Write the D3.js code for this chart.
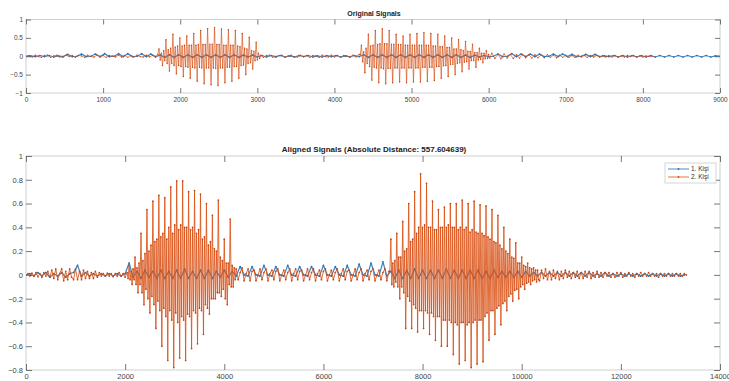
<!DOCTYPE html>
<html>
<head>
<meta charset="utf-8">
<script src="https://cdn.jsdelivr.net/npm/d3@7"></script>
<style>
  body { margin: 0; background: #fff; }
  svg { display: block; font-family: "Liberation Sans", Arial, sans-serif; }
</style>
</head>
<body>
<div id="chart"></div>
<script>
// ---- data (sample values) ----
const topTitle = "Original Signals";
const bottomTitle = "Aligned Signals (Absolute Distance: 557.604639)";
const seriesNames = ["1. Kişi", "2. Kişi"];

const topXTicks = [0, 1000, 2000, 3000, 4000, 5000, 6000, 7000, 8000, 9000];
const topYTicks = [-1, -0.5, 0, 0.5, 1];
const bottomXTicks = [0, 2000, 4000, 6000, 8000, 10000, 12000, 14000];
const bottomYTicks = [-0.8, -0.6, -0.4, -0.2, 0, 0.2, 0.4, 0.6, 0.8, 1];

// original signals
const topBlue = [
  0, 0.01, -0.01, 0.02, -0.01, 0.02, -0.02, 0.01, -0.01,
  0.05, -0.01, 0.0, 0.06, -0.01, 0.0, 0.06, -0.01, 0.07, -0.01, 0.0, 0.07, -0.01, 0.07, -0.01, 0.0, 0.07, -0.01, 0.06, -0.01,
  0.03, -0.03, 0.04, -0.03, 0.04, -0.03, 0.04, -0.03, 0.04, -0.03, 0.04, -0.03, 0.04, -0.03, 0.04, -0.03, 0.04, -0.03, 0.03, -0.02, 0.03, -0.02, 0.02,
  -0.02, 0.02, -0.01, 0.02, -0.02, 0.01, -0.02, 0.02, -0.01, 0.02, -0.02, 0.01, -0.02, 0.02, -0.01, 0.02, -0.02, 0.01, -0.02, 0.02, -0.01,
  0.04, -0.03, 0.04, -0.03, 0.04, -0.03, 0.04, -0.03, 0.04, -0.03, 0.04, -0.03, 0.04, -0.03, 0.04, -0.03, 0.04, -0.03, 0.04, -0.03, 0.04, -0.03, 0.03, -0.03, 0.03, -0.02, 0.02,
  -0.01, 0.0, 0.06, -0.01, 0.0, 0.07, -0.01, 0.06, -0.01, 0.06, -0.01, 0.06, -0.01, 0.0, 0.06, -0.01, 0.06, -0.01, 0.05, -0.01, 0.0, 0.05, -0.01, 0.05, -0.01,
  0.01, -0.01, 0.02, -0.02, 0.02, -0.02, 0.02, -0.02, 0.02, -0.02, 0.02, -0.02, 0.02, -0.02, 0.02, -0.02, 0.02, -0.02, 0.02, -0.02, 0.02, -0.02, 0.02, -0.02, 0.01, 0.0
];

const topOrangeLead = [
  0, 0.02, -0.02, 0.03, -0.01, -0.03, 0.02, 0.03, -0.03, 0.01,
  0.03, -0.02, -0.02, 0.03, -0.01, 0.02, -0.03, 0.02, 0.01, -0.03,
  0.03, -0.01, -0.02, 0.03, -0.02, 0.02, -0.03, 0.02, 0.01, -0.02,
  0.03, -0.02, 0.02, -0.03, 0.02, -0.02, 0.03, -0.01, -0.02, 0.03,
  -0.02, 0.02, -0.03
];

const topOrangeBurst1 = [
  0.05,
  0.2, -0.1, 0.08, -0.25, 0.15, -0.12, 0.45, -0.2, 0.18, -0.4, 0.22, -0.2,
  0.6, -0.25, 0.25, -0.48, 0.28, -0.25, 0.5, -0.28, 0.28, -0.55, 0.3, -0.28,
  0.55, -0.3, 0.3, -0.6, 0.3, -0.3, 0.62, -0.32, 0.3, -0.68, 0.32, -0.3,
  0.7, -0.32, 0.32, -0.75, 0.32, -0.32, 0.75, -0.32, 0.33, -0.78, 0.33, -0.32,
  0.78, -0.33, 0.32, -0.8, 0.32, -0.32, 0.74, -0.32, 0.3, -0.72, 0.3, -0.3,
  0.72, -0.3, 0.3, -0.68, 0.3, -0.28, 0.7, -0.28, 0.28, -0.6, 0.26, -0.25,
  0.62, -0.24, 0.22, -0.5, 0.2, -0.2, 0.52, -0.18, 0.16, -0.35, 0.14, -0.12,
  0.38, -0.1, 0.08,
  -0.06, 0.03
];

const topOrangeMid = [
  -0.03, 0.02, 0.03, -0.02, -0.03, 0.02, 0.03, -0.03, 0.01, 0.03,
  -0.02, -0.02, 0.03, -0.01, 0.02, -0.03, 0.02, 0.01, -0.03, 0.03,
  -0.01, -0.02, 0.03, -0.02, 0.02, -0.03, 0.02, 0.01, -0.02, 0.03,
  -0.02, 0.05
];

const topOrangeBurst2 = [
  0.04,
  0.3, -0.15, 0.12, -0.45, 0.22, -0.2, 0.6, -0.28, 0.28, -0.65, 0.3, -0.3,
  0.7, -0.32, 0.32, -0.72, 0.34, -0.32, 0.75, -0.34, 0.34, -0.75, 0.34, -0.33,
  0.7, -0.33, 0.33, -0.72, 0.33, -0.32, 0.6, -0.32, 0.32, -0.7, 0.32, -0.32,
  0.55, -0.32, 0.3, -0.72, 0.3, -0.32, 0.6, -0.32, 0.3, -0.7, 0.3, -0.32,
  0.62, -0.32, 0.3, -0.7, 0.3, -0.3, 0.65, -0.3, 0.3, -0.68, 0.3, -0.3,
  0.62, -0.3, 0.28, -0.66, 0.28, -0.28, 0.6, -0.28, 0.26, -0.6, 0.26, -0.26,
  0.55, -0.25, 0.24, -0.55, 0.24, -0.22, 0.5, -0.22, 0.2, -0.5, 0.2, -0.2,
  0.45, -0.18, 0.18, -0.42, 0.16, -0.16, 0.4, -0.15, 0.14, -0.35, 0.13, -0.12,
  0.33, -0.12, 0.1, -0.3, 0.1, -0.1, 0.22, -0.09, 0.08, -0.18, 0.08, -0.07,
  0.15, -0.06, 0.05,
  -0.05
];

const topOrangeTail = [
  0.08, -0.06, 0.05, -0.07, 0.06, -0.05, 0.05, -0.06, 0.04, -0.05,
  0.05, -0.04, 0.04, -0.05, 0.04, -0.04, 0.03, -0.04, 0.04, -0.03,
  0.03, -0.04, 0.03, -0.03, 0.03, -0.03, 0.02, -0.03, 0.03, -0.02,
  0.02, -0.03, 0.02, -0.02, 0.02, -0.02, 0.02, -0.02, 0.02, -0.02,
  0.02, -0.02, 0.01, -0.02, 0.02, -0.01, 0.02, -0.02, 0.01, -0.02,
  0.01, -0.01, 0.0
];

// aligned signals
const bottomBlue = [
  0, 0.01, -0.01, 0.02, -0.01, 0.02, -0.02, 0.01, -0.01, 0.02, -0.02, 0.01,
  0.02, 0.08, -0.01, 0.02, -0.01, 0.01, -0.01, 0.01, -0.01, 0.01, -0.01, 0.01, -0.01, 0.01, 0.1, -0.02,
  0.03, -0.03, 0.04, -0.02, 0.03, -0.03, 0.04, -0.03, 0.03, -0.03, 0.04, -0.03, 0.05, -0.03, 0.03, -0.03, 0.04, -0.03, 0.04, -0.03, 0.03, -0.02, 0.04, -0.02, 0.03,
  -0.01, 0.07, 0.0, -0.01, 0.07, 0.0, -0.01, 0.08, 0.0, -0.01, 0.07, 0.0, -0.01, 0.08, 0.0, -0.01, 0.07, 0.0, -0.01, 0.07,
  0.0, -0.01, 0.08, 0.0, -0.01, 0.07, 0.0, -0.01, 0.08, 0.0, -0.01, 0.09, 0.0, -0.01, 0.1, 0.0, -0.01, 0.11, -0.01,
  0.03, -0.03, 0.04, -0.03, 0.04, -0.03, 0.05, -0.03, 0.04, -0.03, 0.04, -0.03, 0.04, -0.03, 0.05, -0.03, 0.04, -0.03, 0.04,
  -0.03, 0.04, -0.03, 0.04, -0.03, 0.03, -0.03, 0.04, -0.02, 0.03, -0.02, 0.03, -0.02, 0.03, -0.02, 0.03, -0.01, 0.02,
  -0.01, 0.02, -0.01, 0.02, -0.01, 0.02, -0.01, 0.02, -0.01, 0.02, -0.01, 0.02, -0.01, 0.02, -0.01, 0.01, -0.01, 0.02, -0.01,
  0.01, -0.01, 0.01, -0.01, 0.01, -0.01, 0.01, -0.01, 0.01, -0.01, 0.01, -0.01, 0.01, -0.01, 0.01, -0.01, 0.01, -0.01, 0.0
];

const bottomOrangeLead = [
  0, 0.01, -0.01, 0.015, -0.01, 0.02, -0.015, 0.01, -0.02, 0.02, -0.01, 0.03, -0.02,
  0.04, -0.03, 0.05, -0.04, 0.01, 0.05, -0.05, 0.03, -0.04, 0.05, -0.02, -0.04, 0.05,
  -0.04, 0.03, -0.04, 0.04, -0.03, 0.03, -0.03, 0.02, -0.03, 0.03, -0.02, 0.02,
  -0.01, 0.01, -0.01, 0.015, -0.01, 0.01, -0.015, 0.01, -0.01, 0.02, -0.01, 0.01, -0.02, 0.02
];

const bottomOrangeBurst1 = [
  -0.03,
  0.08, -0.04, 0.03, -0.08, 0.05, -0.04, 0.15, -0.08, 0.06, -0.15, 0.1, -0.08,
  0.35, -0.15, 0.12, -0.25, 0.18, -0.12, 0.55, -0.2, 0.2, -0.32, 0.25, -0.18,
  0.62, -0.25, 0.28, -0.45, 0.3, -0.22, 0.67, -0.3, 0.32, -0.6, 0.35, -0.28,
  0.65, -0.35, 0.3, -0.72, 0.4, -0.3, 0.74, -0.38, 0.35, -0.78, 0.42, -0.32,
  0.79, -0.4, 0.38, -0.7, 0.42, -0.35, 0.79, -0.38, 0.4, -0.72, 0.4, -0.33,
  0.7, -0.35, 0.38, -0.62, 0.4, -0.3, 0.71, -0.32, 0.35, -0.58, 0.38, -0.28,
  0.68, -0.3, 0.3, -0.5, 0.32, -0.25, 0.6, -0.28, 0.25, -0.33, 0.28, -0.2,
  0.5, -0.2, 0.22, -0.2, 0.2, -0.15, 0.63, -0.15, 0.15, -0.18, 0.12, -0.12,
  0.3, -0.2, 0.1, -0.25, 0.1, -0.08, 0.47, -0.1, 0.08, -0.1, 0.06, -0.04
];

const bottomOrangeMid = [
  0.05, -0.04, 0.02, 0.06, -0.05, 0.01, 0.05, -0.05, 0.03, 0.04,
  -0.05, 0.0, 0.05, -0.04, 0.02, 0.05, -0.05, 0.01, 0.04, -0.04,
  0.03, 0.05, -0.05, 0.0, 0.04, -0.04, 0.02, 0.05, -0.05, 0.01,
  0.05, -0.04, 0.03, 0.04, -0.05, 0.0, 0.05, -0.04, 0.02, 0.05,
  -0.05, 0.01, 0.04, -0.04, 0.03, 0.05, -0.05, 0.0, 0.04, -0.04,
  0.02, 0.05, -0.05, 0.01, 0.05, -0.04, 0.03, 0.04, -0.05, 0.0,
  0.05, -0.04, 0.02, 0.05, -0.05, 0.01, 0.04, -0.04, 0.03, 0.05,
  -0.05, 0.0, 0.04, -0.04, 0.02, 0.05, -0.05, 0.03
];

const bottomOrangeBurst2 = [
  0.03,
  0.3, -0.08, 0.1, -0.1, 0.12, -0.06, 0.35, -0.1, 0.15, -0.2, 0.15, -0.1,
  0.45, -0.15, 0.2, -0.45, 0.22, -0.18, 0.6, -0.22, 0.28, -0.45, 0.3, -0.25,
  0.7, -0.28, 0.35, -0.48, 0.4, -0.3, 0.85, -0.3, 0.4, -0.45, 0.42, -0.3,
  0.77, -0.32, 0.4, -0.5, 0.4, -0.32, 0.62, -0.35, 0.38, -0.55, 0.38, -0.35,
  0.55, -0.35, 0.4, -0.6, 0.4, -0.38, 0.57, -0.38, 0.4, -0.6, 0.42, -0.38,
  0.6, -0.4, 0.4, -0.67, 0.4, -0.4, 0.6, -0.42, 0.38, -0.75, 0.4, -0.4,
  0.63, -0.4, 0.38, -0.72, 0.4, -0.42, 0.6, -0.4, 0.36, -0.78, 0.38, -0.4,
  0.62, -0.38, 0.36, -0.75, 0.35, -0.38, 0.59, -0.38, 0.35, -0.73, 0.33, -0.35,
  0.58, -0.32, 0.32, -0.55, 0.3, -0.3, 0.55, -0.3, 0.28, -0.5, 0.27, -0.28,
  0.5, -0.26, 0.25, -0.42, 0.22, -0.24, 0.4, -0.22, 0.2, -0.3, 0.18, -0.18,
  0.3, -0.16, 0.15, -0.22, 0.14, -0.13, 0.27, -0.12, 0.1, -0.2, 0.1, -0.1,
  0.15, -0.08, 0.08, -0.12, 0.07, -0.07, 0.1, -0.06, 0.06, -0.08, 0.05, -0.05,
  0.06, -0.04, 0.04, -0.06, 0.04, -0.04
];

const bottomOrangeTail = [
  -0.05, 0.04, -0.03, 0.05, -0.04, 0.03, -0.04, 0.04, -0.03, 0.03, -0.04, 0.03, -0.03, 0.04, -0.02, 0.03, -0.03,
  0.02, -0.02, 0.03, -0.03, 0.02, -0.03, 0.03, -0.02, 0.03, -0.03,
  0.02, -0.02, 0.03, -0.02, 0.02, -0.02, 0.02, -0.01, 0.02, -0.02,
  0.01, -0.02, 0.02, -0.01, 0.02, -0.02, 0.01, -0.01, 0.02, -0.01,
  0.01, -0.02, 0.01, -0.01, 0.02, -0.01, 0.01, -0.01, 0.02, -0.01,
  0.01, -0.01, 0.01, -0.02, 0.01, -0.01, 0.01, -0.01, 0.01, -0.01,
  0.01, -0.01, 0.01, -0.01, 0.01, -0.01, 0.01, 0.0
];

// segments: [first sample x, sample spacing, values]
const topBlueSegments = [[0, 60, topBlue]];
const topOrangeSegments = [
  [0, 40, topOrangeLead],
  [1710, 15, topOrangeBurst1],
  [3080, 40, topOrangeMid],
  [4335, 15, topOrangeBurst2],
  [6040, 40, topOrangeTail]
];
const bottomBlueSegments = [[0, 80, bottomBlue]];
const bottomOrangeSegments = [
  [0, 40, bottomOrangeLead],
  [2060, 20, bottomOrangeBurst1],
  [4240, 40, bottomOrangeMid],
  [7340, 20, bottomOrangeBurst2],
  [10360, 40, bottomOrangeTail]
];

const blue = "#1f6fb4";
const orange = "#D95319";
const orangeDot = "#c0461a";

// ---- drawing ----
const width = 729, height = 381;
const svg = d3.select("#chart").append("svg")
  .attr("width", width)
  .attr("height", height);

function toPoints(segments) {
  const pts = [];
  segments.forEach(([start, step, values]) => {
    values.forEach((v, i) => pts.push({ x: start + i * step, y: v }));
  });
  return pts;
}

function drawPanel(opts) {
  const { id, box, xDomain, yDomain, xTicks, yTicks, title, series, fontSize, tickLen } = opts;
  const x = d3.scaleLinear().domain(xDomain).range([box.left, box.right]);
  const y = d3.scaleLinear().domain(yDomain).range([box.bottom, box.top]);

  const g = svg.append("g");

  g.append("clipPath").attr("id", id)
    .append("rect")
    .attr("x", box.left).attr("y", box.top)
    .attr("width", box.right - box.left).attr("height", box.bottom - box.top);

  const line = d3.line().x(d => x(d.x)).y(d => y(d.y));
  const plot = g.append("g").attr("clip-path", `url(#${id})`);

  series.forEach(s => {
    const pts = toPoints(s.segments);
    plot.append("path")
      .datum(pts)
      .attr("fill", "none")
      .attr("stroke", s.color)
      .attr("stroke-width", s.width)
      .attr("stroke-opacity", 0.85)
      .attr("stroke-linejoin", "round")
      .attr("d", line);
    plot.append("g")
      .selectAll("circle")
      .data(pts)
      .join("circle")
      .attr("cx", d => x(d.x))
      .attr("cy", d => y(d.y))
      .attr("r", s.r)
      .attr("fill", s.dot);
  });

  // box
  g.append("rect")
    .attr("x", box.left).attr("y", box.top)
    .attr("width", box.right - box.left).attr("height", box.bottom - box.top)
    .attr("fill", "none")
    .attr("stroke", "#c4c4c4")
    .attr("stroke-width", 0.8);

  // axes with inward ticks, mirrored on top/right like matlab
  const axBottom = d3.axisBottom(x).tickValues(xTicks).tickSize(-tickLen).tickFormat(d3.format("d"));
  const axTop = d3.axisTop(x).tickValues(xTicks).tickSize(-tickLen).tickFormat("");
  const axLeft = d3.axisLeft(y).tickValues(yTicks).tickSize(-tickLen).tickFormat(d => d3.format("")(+d.toFixed(1)));
  const axRight = d3.axisRight(y).tickValues(yTicks).tickSize(-tickLen).tickFormat("");

  const styleAxis = sel => {
    sel.select(".domain").remove();
    sel.selectAll(".tick line").attr("stroke", "#555").attr("stroke-width", 0.8);
    sel.selectAll(".tick text")
      .attr("fill", "#444")
      .style("font-size", fontSize + "px")
      .style("font-family", "'Liberation Sans', Arial, sans-serif");
  };

  g.append("g").attr("transform", `translate(0,${box.bottom})`).call(axBottom).call(styleAxis)
    .selectAll(".tick text").attr("y", 4);
  g.append("g").attr("transform", `translate(0,${box.top})`).call(axTop).call(styleAxis);
  g.append("g").attr("transform", `translate(${box.left},0)`).call(axLeft).call(styleAxis)
    .selectAll(".tick text").attr("x", -3);
  g.append("g").attr("transform", `translate(${box.right},0)`).call(axRight).call(styleAxis);

  g.append("text")
    .attr("x", (box.left + box.right) / 2 + 1)
    .attr("y", box.top - 4)
    .attr("text-anchor", "middle")
    .attr("font-weight", "bold")
    .attr("fill", "#222")
    .style("font-size", opts.titleSize + "px")
    .text(title);
}

drawPanel({
  id: "clipTop",
  box: { left: 26, right: 720, top: 19.5, bottom: 93 },
  xDomain: [0, 9000],
  yDomain: [-1, 1],
  xTicks: topXTicks,
  yTicks: topYTicks,
  title: topTitle,
  titleSize: 7,
  fontSize: 6.5,
  tickLen: 5,
  series: [
    { segments: topBlueSegments, color: blue, dot: blue, width: 1.25, r: 0.85 },
    { segments: topOrangeSegments, color: orange, dot: orangeDot, width: 0.8, r: 0.7 }
  ]
});

drawPanel({
  id: "clipBottom",
  box: { left: 26, right: 720, top: 156, bottom: 370 },
  xDomain: [0, 14000],
  yDomain: [-0.8, 1],
  xTicks: bottomXTicks,
  yTicks: bottomYTicks,
  title: bottomTitle,
  titleSize: 8,
  fontSize: 7.5,
  tickLen: 6,
  series: [
    { segments: bottomBlueSegments, color: blue, dot: blue, width: 1.25, r: 0.85 },
    { segments: bottomOrangeSegments, color: orange, dot: orangeDot, width: 1.0, r: 0.85 }
  ]
});

// legend
const legend = svg.append("g").attr("transform", "translate(665,163)");
legend.append("rect")
  .attr("width", 51).attr("height", 20)
  .attr("fill", "#fff")
  .attr("stroke", "#c4c4c4")
  .attr("stroke-width", 0.7);
seriesNames.forEach((name, i) => {
  const c = i === 0 ? blue : orange;
  const ly = 6 + i * 8;
  legend.append("line")
    .attr("x1", 3).attr("x2", 24).attr("y1", ly).attr("y2", ly)
    .attr("stroke", c).attr("stroke-width", 0.8);
  legend.append("circle").attr("cx", 13.5).attr("cy", ly).attr("r", 0.9).attr("fill", c);
  legend.append("text")
    .attr("x", 26).attr("y", ly + 2.2)
    .attr("fill", "#333")
    .style("font-size", "6.5px")
    .text(name);
});
</script>
</body>
</html>
